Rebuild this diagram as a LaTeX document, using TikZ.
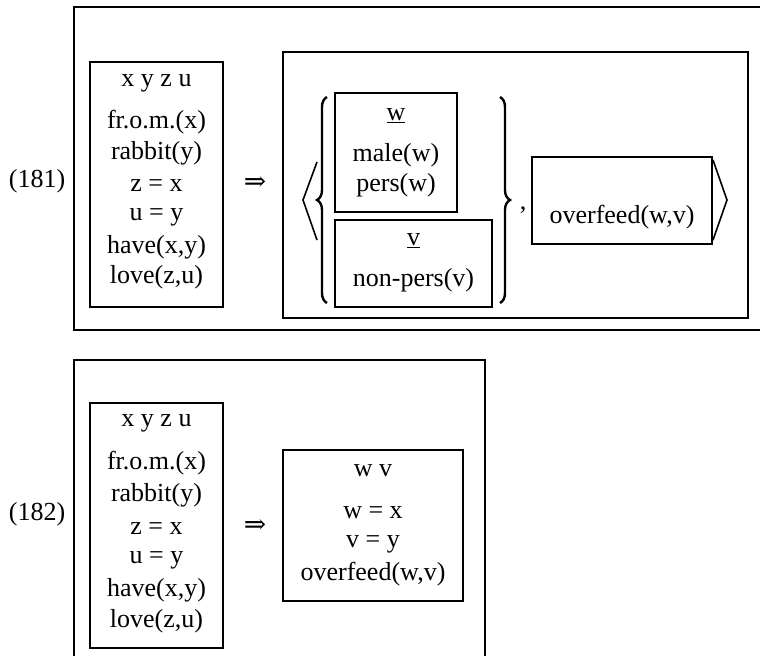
\documentclass[tikz,border=0pt]{standalone}
\usepackage{fontspec}
\setmainfont{Liberation Serif}
\newfontfamily\arrfont{DejaVu Serif}
\usetikzlibrary{decorations.pathreplacing}

\begin{document}
\begin{tikzpicture}[x=0.75pt,y=-0.75pt]
    \tikzset{box/.style = {draw,line width=1.5pt}}
    \tikzset{txt/.style = {shape=rectangle,draw=none,inner sep=0pt,font=\fontsize{19.5}{23}\selectfont}}
    \tikzset{arr/.style = {shape=rectangle,draw=none,inner sep=0pt,font=\arrfont\fontsize{20}{22}\selectfont}}
    \tikzset{brc/.style = {decorate,decoration={brace,amplitude=7.5pt},line width=1.8pt}}
    \tikzset{ang/.style = {line width=1.2pt}}

    \useasboundingbox (0,0) rectangle (760,656);

    % (181) boxes
    \draw[box] (74,7) rectangle (775,330);
    \draw[box] (90,62) rectangle (223,307);
    \draw[box] (283,52) rectangle (748,318);
    \draw[box] (335,93) rectangle (457,212);
    \draw[box] (335,220) rectangle (492,307);
    \draw[box] (532,157) rectangle (712,244);

    % (181) text
    \node[txt] (n1) at (37,181) {(181)};
    \node[txt] (a0) at (156.5,83) {x y z u};
    \node[txt] (a1) at (156.5,122) {fr.o.m.(x)};
    \node[txt] (a2) at (156.5,153) {rabbit(y)};
    \node[txt] (a3) at (156.5,186) {z = x};
    \node[txt] (a4) at (156.5,217) {u = y};
    \node[txt] (a5) at (156.5,247) {have(x,y)};
    \node[txt] (a6) at (156.5,277) {love(z,u)};
    \node[arr] (r1) at (255,183) {⇒};

    \node[txt] (w0) at (396,116) {\underline{w}};
    \node[txt] (w1) at (396,155) {male(w)};
    \node[txt] (w2) at (396,185) {pers(w)};
    \node[txt] (v0) at (413.5,241) {\underline{v}};
    \node[txt] (v1) at (413.5,280) {non-pers(v)};
    \node[txt] (c1) at (523,210) {,};
    \node[txt] (o1) at (622,217) {overfeed(w,v)};

    % brackets
    \coordinate (bl1) at (327,303);
    \coordinate (bl2) at (327,97);
    \coordinate (br1) at (500,97);
    \coordinate (br2) at (500,303);
    \draw[brc] (bl1) -- (bl2);
    \draw[brc] (br1) -- (br2);
    \draw[ang] (317,162) -- (303,200) -- (317,240);
    \draw[ang] (713,160) -- (727,200) -- (713,240);

    % (182) boxes
    \draw[box] (74,360) rectangle (485,670);
    \draw[box] (90,403) rectangle (223,648);
    \draw[box] (283,450) rectangle (463,601);

    % (182) text
    \node[txt] (n2) at (37,514) {(182)};
    \node[txt] (b0) at (156.5,423) {x y z u};
    \node[txt] (b1) at (156.5,463) {fr.o.m.(x)};
    \node[txt] (b2) at (156.5,495) {rabbit(y)};
    \node[txt] (b3) at (156.5,529) {z = x};
    \node[txt] (b4) at (156.5,560) {u = y};
    \node[txt] (b5) at (156.5,590) {have(x,y)};
    \node[txt] (b6) at (156.5,621) {love(z,u)};
    \node[arr] (r2) at (255,526) {⇒};

    \node[txt] (k0) at (373,471) {w v};
    \node[txt] (k1) at (373,513) {w = x};
    \node[txt] (k2) at (373,544) {v = y};
    \node[txt] (k3) at (373,574) {overfeed(w,v)};
\end{tikzpicture}
\end{document}
